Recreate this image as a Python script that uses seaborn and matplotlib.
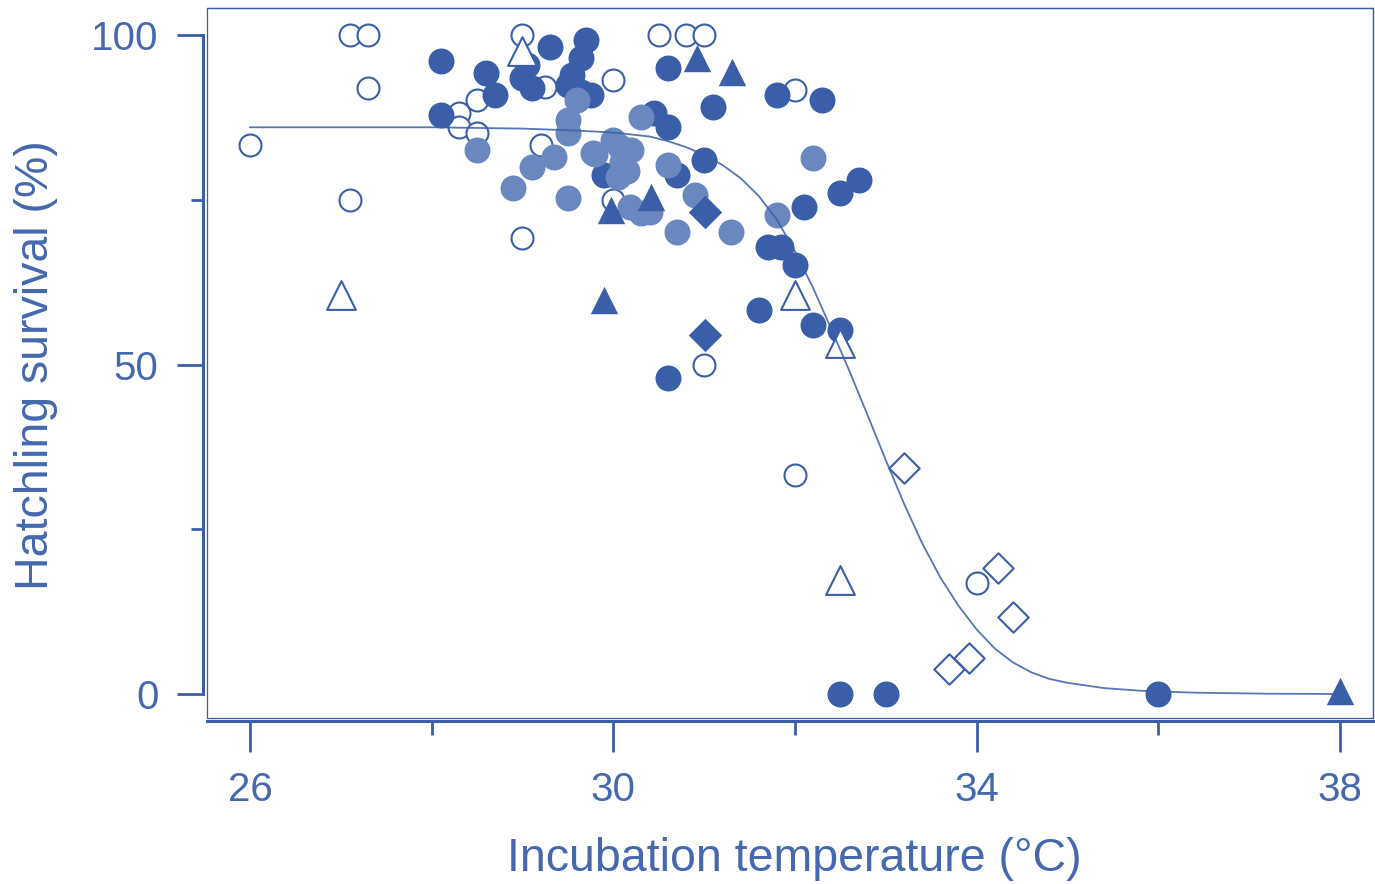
import numpy as np
import pandas as pd
import matplotlib
matplotlib.use("Agg")
import matplotlib.pyplot as plt
from matplotlib.patches import Rectangle
from matplotlib.ticker import FixedLocator
import seaborn as sns

DARK = "#3a5ea7"
LIGHT = "#6a87bf"
TEXT = "#4568ae"

# open circles
open_circle_x = [26.0, 27.1, 27.3, 27.3, 27.1, 28.3, 28.3, 28.5, 28.5, 29.0, 29.25, 30.0,
                 29.2, 29.0, 30.0, 30.5, 30.8, 31.0, 32.0, 31.0, 32.0, 34.0]
open_circle_y = [83.3, 100, 100, 92.0, 75.0, 88.2, 86.0, 90.1, 85.1, 100, 92.1, 93.2,
                 83.3, 69.2, 75.0, 100, 100, 100, 91.7, 49.9, 33.2, 16.8]

# filled dark circles
dark_circle_x = [28.1, 28.1, 28.6, 28.7, 29.05, 29.0, 29.1, 29.3, 29.7, 29.65, 29.55, 29.65,
                 29.75, 29.5, 30.6, 31.1, 31.8, 30.45, 30.6, 31.0, 30.7, 29.9, 32.3, 32.7,
                 32.5, 32.1, 31.7, 31.85, 32.0, 31.6, 32.2, 32.5, 30.6, 32.5, 33.0, 36.0]
dark_circle_y = [96.0, 87.9, 94.2, 90.9, 95.4, 93.5, 92.0, 98.2, 99.2, 96.5, 93.9, 91.3,
                 90.9, 92.4, 95.0, 89.1, 90.9, 88.2, 86.0, 81.0, 78.8, 78.8, 90.1, 78.0,
                 76.0, 73.9, 67.8, 67.8, 65.1, 58.3, 56.0, 55.2, 48.0, 0, 0, 0]

# filled light circles
light_circle_x = [28.5, 28.9, 29.5, 29.1, 29.35, 29.6, 29.5, 29.5, 29.78, 30.0, 30.2, 30.3,
                  30.3, 30.1, 30.05, 30.18, 30.4, 30.6, 30.9, 30.7, 31.3, 31.8, 32.2, 30.07,
                  29.8, 30.15]
light_circle_y = [82.5, 76.8, 75.3, 80.0, 81.5, 90.1, 87.1, 85.1, 82.1, 84.1, 82.5, 87.6,
                  73.0, 80.8, 78.5, 73.9, 73.1, 80.3, 75.7, 70.1, 70.1, 72.7, 81.3, 83.0,
                  82.0, 79.3]

# triangles
open_tri_x = [27.0, 29.0, 32.0, 32.5, 32.5]
open_tri_y = [60.5, 97.5, 60.5, 53.2, 17.3]
dark_tri_x = [29.9, 29.98, 30.42, 30.92, 31.31, 38.0]
dark_tri_y = [59.8, 73.4, 75.4, 96.5, 94.4, 0.5]

# diamonds
dark_dia_x = [31.01, 31.01]
dark_dia_y = [73.2, 54.5]
open_dia_x = [33.2, 34.23, 34.4, 33.7, 33.92]
open_dia_y = [34.3, 19.1, 11.7, 3.8, 5.5]

# fitted curve
curve_x = [26.0, 28.0, 29.0, 29.6, 30.0, 30.4, 30.6, 30.8, 31.0, 31.2, 31.4, 31.6, 31.8,
           32.0, 32.2, 32.4, 32.6, 32.8, 33.0, 33.2, 33.4, 33.6, 33.8, 34.0, 34.2, 34.4,
           34.6, 34.8, 35.0, 35.4, 35.8, 36.4, 37.2, 38.0]
curve_y = [86.0, 86.0, 85.8, 85.5, 85.2, 84.6, 83.9, 83.0, 81.8, 80.3, 78.3, 75.6, 72.0,
           67.2, 61.6, 55.4, 49.0, 42.3, 35.5, 28.9, 22.9, 17.7, 13.4, 9.8, 6.9, 4.8,
           3.3, 2.3, 1.7, 0.9, 0.5, 0.2, 0.05, 0.0]

plt.rcParams["font.family"] = ["Liberation Sans", "DejaVu Sans"]

fig = plt.figure(figsize=(13.75, 8.84), dpi=100)
ax = fig.add_axes([207 / 1375, 1 - 718 / 884, (1373 - 207) / 1375, (718 - 8) / 884])

groups = [
    (open_circle_x, open_circle_y, "o", 250, "white", DARK, 1.5, 2),
    (dark_circle_x, dark_circle_y, "o", 350, DARK, DARK, 0, 3),
    (light_circle_x, light_circle_y, "o", 350, LIGHT, LIGHT, 0, 4),
    (open_tri_x, open_tri_y, "^", 430, "white", DARK, 1.5, 5),
    (dark_tri_x, dark_tri_y, "^", 390, DARK, DARK, 0, 5),
    (open_dia_x, open_dia_y, "D", 240, "white", DARK, 1.5, 5),
    (dark_dia_x, dark_dia_y, "D", 290, DARK, DARK, 0, 5),
]
for gx, gy, m, s, fc, ec, lw, z in groups:
    df = pd.DataFrame({"temp": gx, "survival": gy})
    sns.scatterplot(data=df, x="temp", y="survival", ax=ax, marker=m, s=s,
                    facecolor=fc, edgecolor=ec, linewidth=lw, zorder=z, legend=False)

curve = pd.DataFrame({"temp": curve_x, "survival": curve_y})
sns.lineplot(data=curve, x="temp", y="survival", ax=ax, color=DARK, lw=1.3,
             alpha=0.85, zorder=6, estimator=None)

ax.set_xlim(25.527, 38.364)
ax.set_ylim(-3.64, 104.1)

ax.xaxis.set_major_locator(FixedLocator([26, 30, 34, 38]))
ax.xaxis.set_minor_locator(FixedLocator([28, 32, 36]))
ax.yaxis.set_major_locator(FixedLocator([0, 50, 100]))
ax.yaxis.set_minor_locator(FixedLocator([25, 75]))

ax.tick_params(axis="x", which="major", length=22, width=2.0, color=DARK,
               labelsize=29, labelcolor=TEXT, pad=14)
ax.tick_params(axis="x", which="minor", length=10, width=2.0, color=DARK)
ax.tick_params(axis="y", which="major", length=19, width=2.0, color=DARK,
               labelsize=29, labelcolor=TEXT, pad=13)
ax.tick_params(axis="y", which="minor", length=9, width=2.0, color=DARK)

for side in ["top", "right"]:
    ax.spines[side].set_linewidth(0.9)
    ax.spines[side].set_color(DARK)
ax.spines["left"].set_bounds(0, 100)
ax.spines["left"].set_position(("outward", 3))
ax.spines["left"].set_linewidth(2.2)
ax.spines["left"].set_color(DARK)
ax.spines["bottom"].set_position(("outward", 2))
ax.spines["bottom"].set_linewidth(2.2)
ax.spines["bottom"].set_color(DARK)
ax.add_patch(Rectangle((0, 0), 1, 1, transform=ax.transAxes, fill=False,
                       lw=0.9, edgecolor=DARK, clip_on=False, zorder=0.5))

ax.set_xlabel("Incubation temperature (°C)", fontsize=33.5, color=TEXT)
ax.set_ylabel("Hatchling survival (%)", fontsize=33.5, color=TEXT)
ax.xaxis.set_label_coords(0.504, -0.168)
ax.yaxis.set_label_coords(-0.128, 0.497)

fig.savefig("out.png", dpi=100)
